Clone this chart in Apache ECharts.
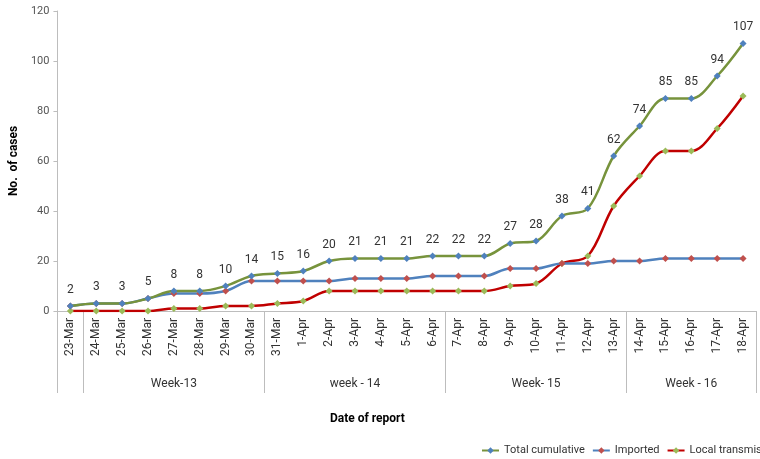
<!DOCTYPE html>
<html><head><meta charset="utf-8">
<script src="https://cdn.jsdelivr.net/npm/echarts@6/dist/echarts.min.js"></script>
<style>html,body{margin:0;padding:0;background:#fff}#c{width:760px;height:459px}</style>
</head><body><div id="c"></div>
<script>
var categories = ['23-Mar','24-Mar','25-Mar','26-Mar','27-Mar','28-Mar','29-Mar','30-Mar','31-Mar','1-Apr','2-Apr','3-Apr','4-Apr','5-Apr','6-Apr','7-Apr','8-Apr','9-Apr','10-Apr','11-Apr','12-Apr','13-Apr','14-Apr','15-Apr','16-Apr','17-Apr','18-Apr'];
var totalCumulative = [2,3,3,5,8,8,10,14,15,16,20,21,21,21,22,22,22,27,28,38,41,62,74,85,85,94,107];
var imported = [2,3,3,5,7,7,8,12,12,12,12,13,13,13,14,14,14,17,17,19,19,20,20,21,21,21,21];
var localTransmission = [0,0,0,0,1,1,2,2,3,4,8,8,8,8,8,8,8,10,11,19,22,42,54,64,64,73,86];
var weekLabels = ['Week-13','week - 14','Week- 15','Week - 16'];
var weekCenters = [4.5, 11.5, 18.5, 24.5];
var weekBoundaries = [0, 1, 8, 15, 22, 27];

var FONT = 'Roboto, sans-serif';
var chart = echarts.init(document.getElementById('c'), null, {renderer:'canvas'});
chart.setOption({
  animation:false,
  textStyle:{fontFamily:FONT},
  grid:{left:46,right:4,top:11,bottom:148},
  title:{text:'Date of report',left:325,top:408,textStyle:{fontSize:12,fontWeight:'bold',color:'#000',fontFamily:FONT}},
  legend:{left:476,top:440,width:1200,itemWidth:17,itemHeight:8,itemGap:7,
    textStyle:{fontSize:11,color:'#333',fontFamily:FONT},
    data:['Total cumulative','Imported','Local transmission']},
  xAxis:[{
    type:'category',data:categories,boundaryGap:true,
    axisLine:{lineStyle:{color:'#bdbdbd',width:1}},
    axisTick:{show:false},
    axisLabel:{rotate:90,fontSize:12,color:'#333',margin:7,interval:0,fontFamily:FONT}
  },{
    type:'value',min:0,max:27,position:'bottom',
    axisLine:{show:false},splitLine:{show:false},
    axisTick:{show:true,length:82,lineStyle:{color:'#bdbdbd'},customValues:weekBoundaries},
    axisLabel:{show:true,margin:67,fontSize:12,color:'#333',fontFamily:FONT,customValues:weekCenters,
      formatter:function(v){var i=weekCenters.indexOf(v);return i>=0?weekLabels[i]:'';}}
  }],
  yAxis:{
    type:'value',min:0,max:120,interval:20,
    name:'No.  of cases',nameLocation:'middle',nameGap:28,
    nameTextStyle:{fontSize:12,fontWeight:'bold',color:'#000',fontFamily:FONT},
    axisLine:{show:true,lineStyle:{color:'#bdbdbd'}},
    axisTick:{show:true,length:4,lineStyle:{color:'#bdbdbd'}},
    axisLabel:{fontSize:11,color:'#555',margin:8,fontFamily:FONT},
    splitLine:{show:false}
  },
  series:[{
    name:'Total cumulative',type:'line',data:totalCumulative,smooth:0.35,
    symbol:'diamond',symbolSize:7,
    lineStyle:{color:'#77933C',width:2.5},itemStyle:{color:'#4F81BD'},
    label:{show:true,position:'top',distance:7,fontSize:12,color:'#333',fontFamily:FONT},
    z:3
  },{
    name:'Imported',type:'line',data:imported,smooth:0.35,
    symbol:'diamond',symbolSize:7,
    lineStyle:{color:'#4F81BD',width:2.5},itemStyle:{color:'#C0504D'},
    z:2
  },{
    name:'Local transmission',type:'line',data:localTransmission,smooth:0.35,
    symbol:'diamond',symbolSize:7,
    lineStyle:{color:'#C00000',width:2.5},itemStyle:{color:'#9BBB59'},
    z:1
  }]
});
</script></body></html>
